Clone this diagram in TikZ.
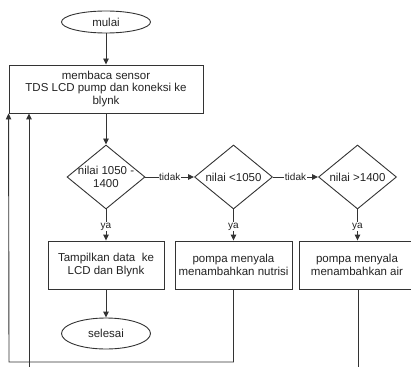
\documentclass[tikz,border=0pt]{standalone}
\usepackage{fontspec}
\setmainfont{Liberation Sans}
\usetikzlibrary{shapes.geometric,arrows.meta}
\definecolor{ln}{HTML}{333333}
\definecolor{tx}{HTML}{222222}
\begin{document}
\begin{tikzpicture}[x=1pt,y=-1pt,
  every node/.style={text=tx,font=\fontsize{11.5}{12.5}\selectfont},
  base/.style={draw=ln,line width=0.9pt,inner sep=0pt},
  term/.style={base,ellipse,minimum width=89pt},
  procbox/.style={base,rectangle,minimum height=48pt,align=center},
  decide/.style={base,diamond,minimum width=78pt,minimum height=64pt},
  dtext/.style={align=center},
  edgelbl/.style={fill=white,inner sep=0.5pt,font=\fontsize{10}{11}\selectfont},
  flow/.style={draw=ln,line width=0.9pt,-{Triangle[length=6pt,width=5.5pt]}},
  plain/.style={draw=ln,line width=0.9pt}]
\useasboundingbox (0,0) rectangle (411,366);

% start / end
\node[term,minimum height=22pt] (mulai) at (106,22) {mulai};
\node[term,minimum height=31pt] (selesai) at (106,333.5) {selesai};

% reading step
\node[procbox,minimum width=194pt] (read) at (106,89)
  {membaca sensor\\TDS LCD pump dan koneksi ke\\blynk};

% decisions
\node[decide] (d1) at (106,177) {};
\node[dtext] (d1t) at (d1) {nilai 1050 -\\1400};
\node[decide] (d2) at (233.5,177) {};
\node[dtext] (d2t) at (d2) {nilai <1050};
\node[decide] (d3) at (357.5,177) {};
\node[dtext] (d3t) at (d3) {nilai >1400};

% actions
\node[procbox,minimum width=116pt] (b1) at (106,265) {Tampilkan data\ \ ke\\LCD dan Blynk};
\node[procbox,minimum width=117pt] (b2) at (233.5,265) {pompa menyala\\menambahkan nutrisi};
\node[procbox,minimum width=116pt] (b3) at (357,265) {pompa menyala\\menambahkan air};

% main flow
\draw[flow] (mulai) -- (read);
\draw[flow] (read) -- (d1);
\draw[flow] (d1) -- node[edgelbl] (t1) {tidak} (d2);
\draw[flow] (d2) -- node[edgelbl] (t2) {tidak} (d3);
\draw[flow] (d1) -- node[edgelbl,pos=0.55] (y1) {ya} (b1);
\draw[flow] (d2) -- node[edgelbl,pos=0.55] (y2) {ya} (b2);
\draw[flow] (d3.south) -- node[edgelbl,pos=0.55] (y3) {ya} (d3.south |- b3.north);
\draw[flow] (b1) -- (selesai);

% loops back to the reading step
\coordinate (lowA) at (9,362);
\coordinate (lowB) at (29,380);
\draw[flow] (b2.south) |- (lowA) -- (read.south west);
\draw[plain] (b3.south -| 358,0) -- (358,380) -- (lowB);
\draw[flow] (lowB) -- (lowB |- read.south);
\end{tikzpicture}
\end{document}
